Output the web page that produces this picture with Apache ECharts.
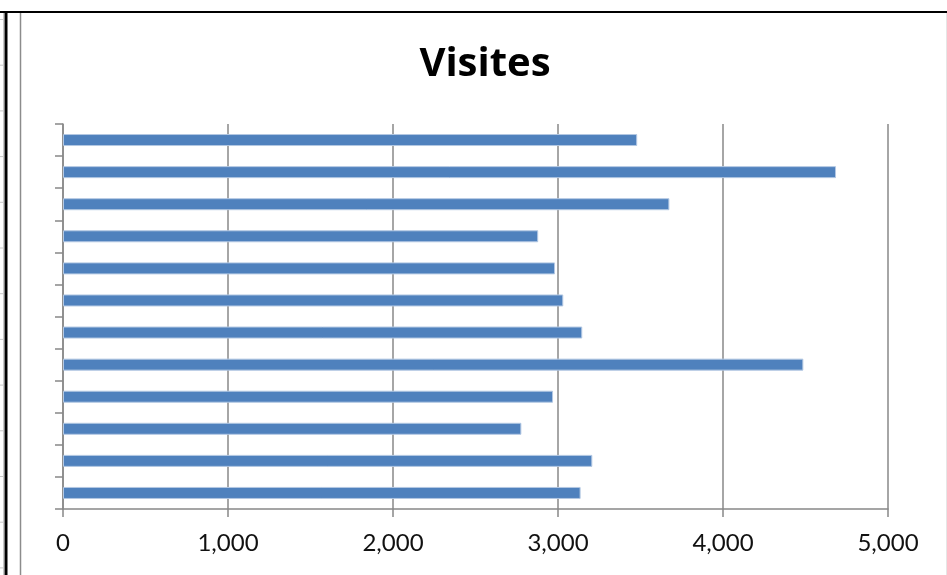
<!DOCTYPE html>
<html>
<head>
<meta charset="utf-8">
<script src="https://cdn.jsdelivr.net/npm/echarts@6/dist/echarts.min.js"></script>
<style>
  html, body { margin: 0; padding: 0; background: #fff; }
  #chart { width: 947px; height: 575px; }
</style>
</head>
<body>
<div id="chart"></div>
<script>
// Categories listed top to bottom (labels are hidden on the axis)
const categories = ['1', '2', '3', '4', '5', '6', '7', '8', '9', '10', '11', '12'];
// Number of visits for each row, top to bottom
const visits = [3480, 4685, 3675, 2880, 2982, 3032, 3147, 4487, 2970, 2778, 3208, 3137];
// Value axis ticks
const xTicks = [0, 1000, 2000, 3000, 4000, 5000];
const chartTitle = 'Visites';

const fmt = v => v.toLocaleString('en-US');

// Spreadsheet row separators along the left edge
const rowLines = [];
for (let i = 0; i < 13; i++) {
  const y = 19.5 + i * 45.7;
  rowLines.push({
    type: 'line', silent: true,
    shape: { x1: 0, y1: y, x2: 4, y2: y },
    style: { stroke: '#c8c8c8', lineWidth: 1 }
  });
}

const chart = echarts.init(document.getElementById('chart'), null, { renderer: 'canvas' });
chart.setOption({
  backgroundColor: '#ffffff',
  animation: false,
  title: {
    text: chartTitle,
    left: 480,
    top: 40,
    textAlign: 'center',
    textStyle: { fontFamily: 'Open Sans', fontWeight: 'bold', fontSize: 40, color: '#000' }
  },
  grid: { left: 63, right: 59, top: 124, bottom: 66, containLabel: false },
  xAxis: {
    type: 'value',
    min: xTicks[0],
    max: xTicks[xTicks.length - 1],
    interval: 1000,
    axisLine: { show: true, lineStyle: { color: '#888', width: 1.5 } },
    axisTick: { show: true, length: 8, lineStyle: { color: '#888', width: 1.5 } },
    splitLine: { show: true, lineStyle: { color: '#888', width: 1.5 } },
    axisLabel: {
      margin: 22,
      fontFamily: 'Lato', fontSize: 24, color: '#111',
      formatter: v => fmt(v)
    }
  },
  yAxis: {
    type: 'category',
    data: categories,
    inverse: true,
    axisLine: { show: true, lineStyle: { color: '#888', width: 1.5 } },
    axisTick: { show: true, length: 8, lineStyle: { color: '#888', width: 1.5 } },
    axisLabel: { show: false },
    splitLine: { show: false }
  },
  series: [{
    type: 'bar',
    data: visits,
    barWidth: 12,
    itemStyle: { color: '#4f81bd', borderColor: '#b3c8e3', borderWidth: 1 }
  }],
  graphic: [
    // chart frame
    { type: 'line', silent: true, shape: { x1: 0, y1: 12, x2: 947, y2: 12 }, style: { stroke: '#000', lineWidth: 2 } },
    { type: 'line', silent: true, shape: { x1: 6, y1: 12, x2: 6, y2: 575 }, style: { stroke: '#000', lineWidth: 3 } },
    { type: 'line', silent: true, shape: { x1: 20.5, y1: 13, x2: 20.5, y2: 575 }, style: { stroke: '#8c8c8c', lineWidth: 1.5 } },
    { type: 'line', silent: true, shape: { x1: 946.5, y1: 13, x2: 946.5, y2: 575 }, style: { stroke: '#e6e6e6', lineWidth: 1 } },
    { type: 'line', silent: true, shape: { x1: 3.5, y1: 13, x2: 3.5, y2: 575 }, style: { stroke: '#c8c8c8', lineWidth: 1 } }
  ].concat(rowLines)
});
</script>
</body>
</html>
